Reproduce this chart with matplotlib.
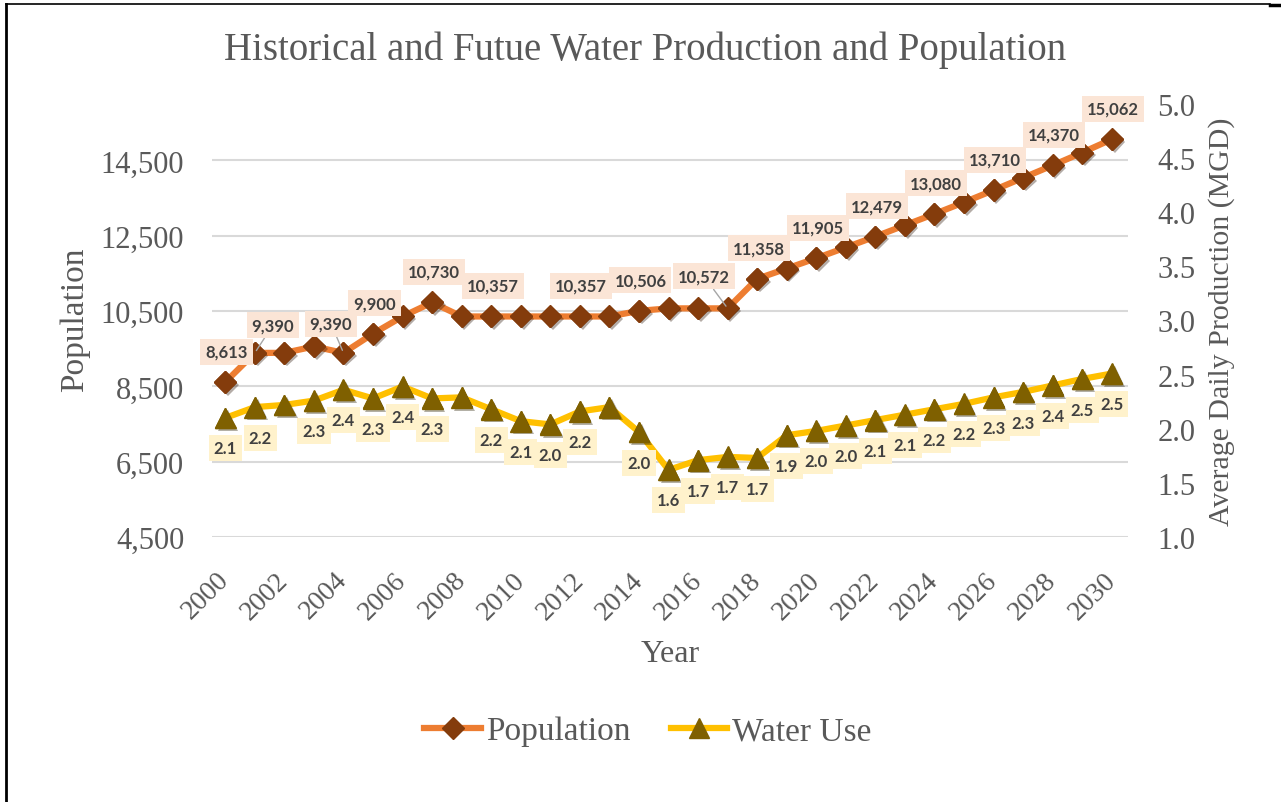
import numpy as np
import matplotlib.pyplot as plt
from matplotlib import patheffects as pe
from matplotlib.lines import Line2D
from matplotlib.ticker import FuncFormatter

plt.rcParams['font.family'] = 'Liberation Serif'

# datos
years = list(range(2000, 2031))
population = [8613, 9390, 9390, 9560, 9390, 9900, 10357, 10730, 10357, 10357,
              10357, 10357, 10357, 10357, 10506, 10572, 10572, 10572, 11358, 11630,
              11905, 12190, 12479, 12780, 13080, 13390, 13710, 14040, 14370, 14710,
              15062]
water_use = [2.10, 2.20, 2.22, 2.26, 2.36, 2.28, 2.39, 2.28, 2.29, 2.18,
             2.07, 2.04, 2.16, 2.20, 1.97, 1.62, 1.71, 1.74, 1.73, 1.94,
             1.98, 2.03, 2.08, 2.13, 2.18, 2.23, 2.29, 2.34, 2.40, 2.46,
             2.51]
pop_label_years = [2000, 2001, 2004, 2005, 2007, 2009, 2012, 2014, 2017, 2018,
                   2020, 2022, 2024, 2026, 2028, 2030]
water_skip_years = [2002, 2008, 2013]

title = 'Historical and Futue Water Production and Population'
gray = '#595959'

W, H = 1281, 803
fig = plt.figure(figsize=(W / 100, H / 100), dpi=100)
ax = fig.add_axes([212 / W, 1 - 538 / H, 916 / W, 433 / H])
ax2 = ax.twinx()

# Poblacion
ax.plot(years, population, color='#ED7D31', lw=4.5, marker='D', ms=11,
        mfc='#843C0C', mec='#843C0C', label='Population', zorder=2)
ax.plot(years, population, ls='none', marker='D', ms=11, mfc='#843C0C',
        mec='#843C0C', zorder=3,
        path_effects=[pe.SimplePatchShadow(offset=(2, -2), alpha=0.35), pe.Normal()])

# Agua
ax2.plot(years, water_use, color='#FFC000', lw=4.5, marker='^', ms=15,
         mfc='#7F6000', mec='#7F6000', label='Water Use', zorder=2)
ax2.plot(years, water_use, ls='none', marker='^', ms=15, mfc='#7F6000',
         mec='#7F6000', zorder=3,
         path_effects=[pe.SimplePatchShadow(offset=(2, -2), alpha=0.35), pe.Normal()])

# etiquetas de datos
pop_offsets = {2001: (13, 20), 2004: (-9, 21), 2017: (-17, 23)}
for y, v in zip(years, population):
    if y not in pop_label_years:
        continue
    off = pop_offsets.get(y, (1, 22))
    arrow = None
    if y in pop_offsets:
        arrow = dict(arrowstyle='-', color='#A6A6A6', lw=1, shrinkA=0, shrinkB=2)
    ax.annotate(f'{v:,}', (y, v), xytext=off, textcoords='offset points',
                ha='center', va='center', fontsize=12, fontweight='bold',
                family='Lato', color='#404040', zorder=6, arrowprops=arrow,
                bbox=dict(boxstyle='square,pad=0.3', fc='#FBE5D6', ec='none'))

water_offsets = {2001: (4, -22)}
for y, v in zip(years, water_use):
    if y in water_skip_years:
        continue
    off = water_offsets.get(y, (0, -22))
    ax2.annotate(f'{v:.1f}', (y, v), xytext=off, textcoords='offset points',
                 ha='center', va='center', fontsize=12, fontweight='bold',
                 family='Lato', color='#404040', zorder=6,
                 bbox=dict(boxstyle='square,pad=0.3', fc='#FFF2CC', ec='none'))

# ejes
ax.set_xlim(1999.55, 2030.55)
ax.set_ylim(4500, 16000)
ax2.set_ylim(1.0, 5.0)
ax.set_yticks(range(4500, 16000, 2000))
ax2.set_yticks(np.arange(1.0, 5.01, 0.5))
ax.yaxis.set_major_formatter(FuncFormatter(lambda v, p: f'{int(v):,}'))
ax2.yaxis.set_major_formatter(FuncFormatter(lambda v, p: f'{v:.1f}'))
ax.set_xticks(years[::2])
ax.set_xticklabels([str(y) for y in years[::2]])

ax.grid(axis='y', color='#D9D9D9', lw=1.5)
ax.set_axisbelow(True)
for a in (ax, ax2):
    for s in a.spines.values():
        s.set_visible(False)

ax.tick_params(axis='y', length=0, pad=20, labelsize=22, labelcolor=gray)
ax2.tick_params(axis='y', length=0, pad=21, labelsize=22, labelcolor=gray)
ax.tick_params(axis='x', length=0, pad=28, labelsize=20, labelcolor=gray)
plt.setp(ax.get_xticklabels(), rotation=45, ha='right', va='center',
         rotation_mode='anchor')

# titulos
fig.text(645 / W, 1 - 50 / H, title, ha='center', va='center',
         fontsize=28, color=gray)
fig.text(75 / W, 1 - 320 / H, 'Population', rotation=90, ha='center',
         va='center', fontsize=24, color=gray)
fig.text(1222 / W, 1 - 322 / H, 'Average Daily Production (MGD)', rotation=90,
         ha='center', va='center', fontsize=21.5, color=gray)
fig.text(670 / W, 1 - 655 / H, 'Year', ha='center', va='center',
         fontsize=23, color=gray)

# leyenda
h1, l1 = ax.get_legend_handles_labels()
h2, l2 = ax2.get_legend_handles_labels()
fig.legend(h1 + h2, l1 + l2, loc='center', bbox_to_anchor=(648 / W, 1 - 732 / H),
           ncol=2, frameon=False, fontsize=24, labelcolor=gray,
           handlelength=1.7, handletextpad=0.15, columnspacing=1.2)

# borde
fig.add_artist(Line2D([6 / W, 6 / W], [0, 1 - 5 / H], transform=fig.transFigure,
                      color='black', lw=2))
fig.add_artist(Line2D([6 / W, 1270 / W], [1 - 5 / H, 1 - 5 / H],
                      transform=fig.transFigure, color='black', lw=1.2))
fig.add_artist(Line2D([1270 / W, 1], [1 - 6 / H, 1 - 6 / H],
                      transform=fig.transFigure, color='black', lw=2.5))

fig.savefig('out.png', dpi=100)
